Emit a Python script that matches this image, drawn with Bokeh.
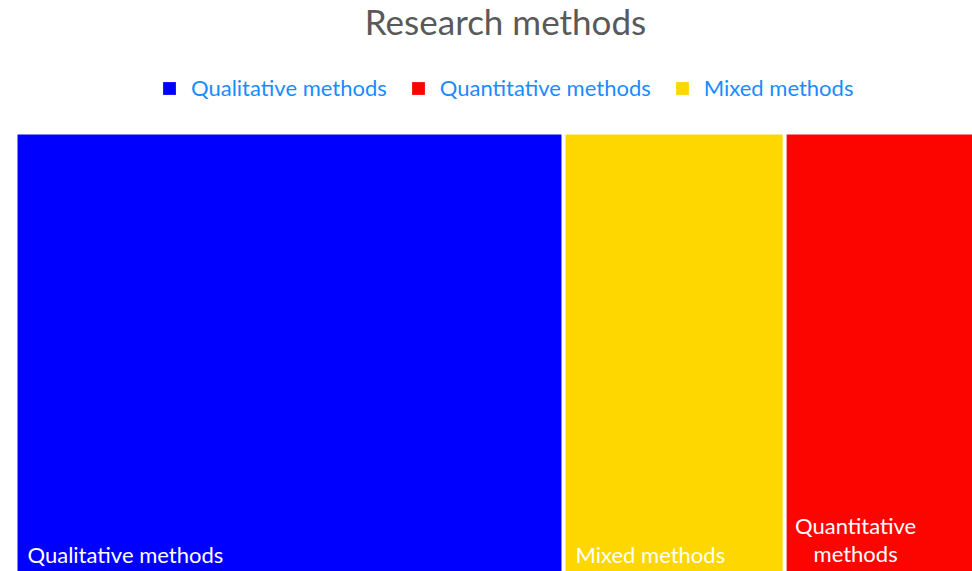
from bokeh.plotting import figure
from bokeh.models import ColumnDataSource, Range1d, Label, Legend, LegendItem
from bokeh.core.properties import value
from bokeh.embed import file_html
from bokeh.resources import INLINE

# ---- data ----
title_text = "Research methods"
categories = ["Qualitative methods", "Quantitative methods", "Mixed methods"]
values = [57, 20, 23]
colors = ["#0000ff", "#fc0500", "#ffd700"]

FONT = "Lato"
W, H = 972, 571
PX_PER_UNIT = 548 / 57.0      # horizontal scale
LEFT_PX = 15                  # px where treemap starts
TOP_PX = 134                  # px (from top) of treemap top
GAP_PX = 4
PAD_PX = 10
LABEL_SIZE = 22

# treemap (single row, slice layout, largest first)
order = sorted(range(len(values)), key=lambda i: -values[i])
gap = GAP_PX / PX_PER_UNIT
pad = PAD_PX / PX_PER_UNIT
lefts, rights, fills, labels, lx, aligns = [], [], [], [], [], []
cum = 0.0
for i in order:
    l, r = cum, cum + values[i]
    cum = r
    lefts.append(l + gap / 2)
    rights.append(r - gap / 2)
    fills.append(colors[i])
    box_px = (r - l) * PX_PER_UNIT - GAP_PX - 2 * PAD_PX
    txt = categories[i]
    est = len(txt) * 0.5 * LABEL_SIZE
    if est > box_px and " " in txt:
        a, b = txt.rsplit(" ", 1)
        txt = a + "\n" + b
        lx.append(l + gap / 2 + 69 / PX_PER_UNIT)
        aligns.append("center")
    else:
        lx.append(l + gap / 2 + pad)
        aligns.append("left")
    labels.append(txt)

src = ColumnDataSource(dict(left=lefts, right=rights, bottom=[0] * len(lefts),
                            top=[1] * len(lefts), color=fills, label=labels,
                            lx=lx, ly=[0] * len(lefts), align=aligns))

x0 = -LEFT_PX / PX_PER_UNIT
p = figure(width=W, height=H, output_backend="svg", toolbar_location=None,
           x_range=Range1d(x0, x0 + W / PX_PER_UNIT),
           y_range=Range1d(0, H / (H - TOP_PX)),
           min_border=0, outline_line_color=None)
p.axis.visible = False
p.grid.visible = False
p.background_fill_color = "white"
p.border_fill_color = "white"

r = p.quad(left="left", right="right", bottom="bottom", top="top",
           fill_color="color", line_color=None, source=src)

p.text(x="lx", y="ly", text="label", source=src, text_color="white",
       text_font=value(FONT), text_font_size=f"{LABEL_SIZE}px", text_align="align",
       text_baseline="bottom", text_line_height=1.07, y_offset=-4)

p.add_layout(Label(x=505, y=551, x_units="screen", y_units="screen",
                   text=title_text, text_align="center", text_baseline="alphabetic",
                   text_font=FONT, text_font_size="35px", text_color="#595959"))

items = [LegendItem(label=categories[i], renderers=[r], index=order.index(i))
         for i in range(len(categories))]
legend = Legend(items=items, orientation="horizontal", location=(161, 470),
                glyph_width=16, glyph_height=16, label_standoff=14, spacing=23,
                padding=0, margin=0, border_line_color=None,
                background_fill_alpha=0, label_text_font=FONT,
                label_text_font_size="22px", label_text_color="#198cff")
p.add_layout(legend)

open("out.html", "w").write(file_html(p, INLINE))
